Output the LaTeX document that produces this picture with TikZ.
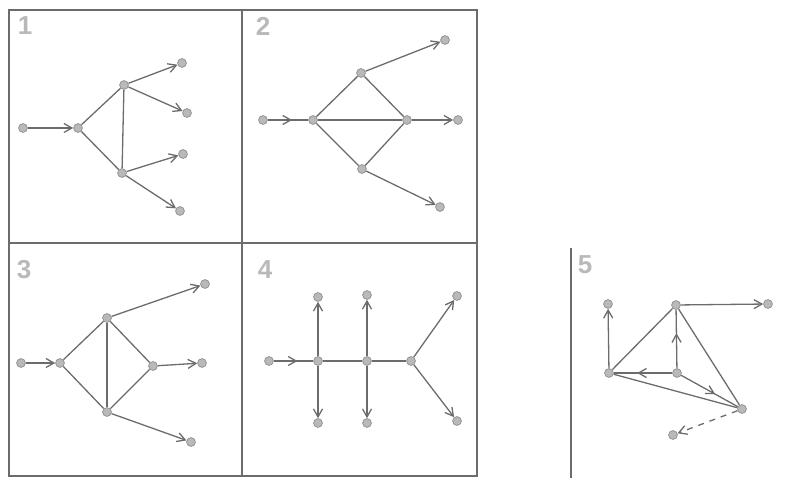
\documentclass[tikz,border=0pt]{standalone}
\usepackage{fontspec}
\setmainfont{Liberation Sans}
\usetikzlibrary{arrows.meta}
\usetikzlibrary{decorations.markings}
\usetikzlibrary{backgrounds}

\begin{document}
\begin{tikzpicture}[
    x=0.5pt, y=-0.5pt,
    dot/.style={circle, draw=gray!85, fill=gray!55, inner sep=0pt,
                minimum size=4.4pt},
    num/.style={font=\bfseries\fontsize{13}{15}\selectfont, text=gray!55},
    frame/.style={draw=gray!85!black, line width=0.7pt},
    link/.style={draw=gray!85!black, line width=0.65pt},
    flow/.style={link, -{Straight Barb[length=4pt,width=4.5pt]}},
    midflow/.style={link, postaction={decorate},
                decoration={markings, mark=at position 0.6 with
                {\arrow{Straight Barb[length=4pt,width=4.5pt]}}}}
  ]
    \useasboundingbox (0,0) rectangle (793,480);

    % Cadre des quatre panneaux
    \draw[frame] (9,10) rectangle (477,476);
    \draw[frame] (242,10) -- (242,476);
    \draw[frame] (9,243) -- (477,243);
    \draw[frame] (571,248) -- (571,478);

    % Numéros
    \node[num] (lblOne) at (25,26) {1};
    \node[num] (lblTwo) at (263,26) {2};
    \node[num] (lblThree) at (24,270) {3};
    \node[num] (lblFour) at (265,270) {4};
    \node[num] (lblFive) at (585,265) {5};

    % Panneau 1
    \node[dot] (oneIn) at (23,128) {};
    \node[dot] (oneFork) at (78,128) {};
    \node[dot] (oneUp) at (124,85) {};
    \node[dot] (oneDown) at (122,173) {};
    \node[dot] (oneOutA) at (182,63) {};
    \node[dot] (oneOutB) at (187,113) {};
    \node[dot] (oneOutC) at (183,154) {};
    \node[dot] (oneOutD) at (180,211) {};

    % Panneau 2
    \node[dot] (twoIn) at (263,120) {};
    \node[dot] (twoFork) at (313,120) {};
    \node[dot] (twoUp) at (361,73) {};
    \node[dot] (twoJoin) at (407,120) {};
    \node[dot] (twoDown) at (362,169) {};
    \node[dot] (twoOutA) at (445,40) {};
    \node[dot] (twoOutB) at (458,120) {};
    \node[dot] (twoOutC) at (440,207) {};

    % Panneau 3
    \node[dot] (threeIn) at (21,363) {};
    \node[dot] (threeFork) at (60,363) {};
    \node[dot] (threeUp) at (107,318) {};
    \node[dot] (threeDown) at (107,412) {};
    \node[dot] (threeJoin) at (153,366) {};
    \node[dot] (threeOutA) at (205,284) {};
    \node[dot] (threeOutB) at (202,363) {};
    \node[dot] (threeOutC) at (191,442) {};

    % Panneau 4
    \node[dot] (fourIn) at (269,361) {};
    \node[dot] (fourA) at (318,361) {};
    \node[dot] (fourB) at (367,361) {};
    \node[dot] (fourC) at (411,361) {};
    \node[dot] (fourAUp) at (318,297) {};
    \node[dot] (fourADown) at (318,423) {};
    \node[dot] (fourBUp) at (367,295) {};
    \node[dot] (fourBDown) at (367,423) {};
    \node[dot] (fourCUp) at (457,296) {};
    \node[dot] (fourCDown) at (457,421) {};

    % Panneau 5
    \node[dot] (fiveTop) at (608,304) {};
    \node[dot] (fiveLeft) at (609,373) {};
    \node[dot] (fivePeak) at (676,305) {};
    \node[dot] (fiveMid) at (677,373) {};
    \node[dot] (fiveRight) at (742,409) {};
    \node[dot] (fiveOut) at (768,304) {};
    \node[dot] (fiveLow) at (673,435) {};

    \begin{pgfonlayer}{background}
      % Panneau 1
      \draw[flow] (oneIn) -- (oneFork);
      \draw[link] (oneFork) -- (oneUp);
      \draw[link] (oneFork) -- (oneDown);
      \draw[link] (oneUp) -- (oneDown);
      \draw[flow] (oneUp) -- (oneOutA);
      \draw[flow] (oneUp) -- (oneOutB);
      \draw[flow] (oneDown) -- (oneOutC);
      \draw[flow] (oneDown) -- (oneOutD);

      % Panneau 2
      \draw[midflow] (twoIn) -- (twoFork);
      \draw[link] (twoFork) -- (twoUp);
      \draw[link] (twoFork) -- (twoJoin);
      \draw[link] (twoFork) -- (twoDown);
      \draw[link] (twoUp) -- (twoJoin);
      \draw[link] (twoDown) -- (twoJoin);
      \draw[flow] (twoUp) -- (twoOutA);
      \draw[flow] (twoJoin) -- (twoOutB);
      \draw[flow] (twoDown) -- (twoOutC);

      % Panneau 3
      \draw[flow] (threeIn) -- (threeFork);
      \draw[link] (threeFork) -- (threeUp);
      \draw[link] (threeFork) -- (threeDown);
      \draw[link] (threeUp) -- (threeDown);
      \draw[link] (threeUp) -- (threeJoin);
      \draw[link] (threeDown) -- (threeJoin);
      \draw[flow] (threeUp) -- (threeOutA);
      \draw[flow] (threeJoin) -- (threeOutB);
      \draw[flow] (threeDown) -- (threeOutC);

      % Panneau 4
      \draw[midflow] (fourIn) -- (fourA);
      \draw[link] (fourA) -- (fourB);
      \draw[link] (fourB) -- (fourC);
      \draw[flow] (fourA) -- (fourAUp);
      \draw[flow] (fourA) -- (fourADown);
      \draw[flow] (fourB) -- (fourBUp);
      \draw[flow] (fourB) -- (fourBDown);
      \draw[flow] (fourC) -- (fourCUp);
      \draw[flow] (fourC) -- (fourCDown);

      % Panneau 5
      \draw[flow] (fiveLeft) -- (fiveTop);
      \draw[link] (fiveLeft) -- (fivePeak);
      \draw[midflow] (fiveMid) -- (fiveLeft);
      \draw[midflow] (fiveMid) -- (fivePeak);
      \draw[midflow] (fiveMid) -- (fiveRight);
      \draw[link] (fiveLeft) -- (fiveRight);
      \draw[link] (fivePeak) -- (fiveRight);
      \draw[flow] (fivePeak) -- (fiveOut);
      \draw[flow, dashed] (fiveRight) -- (fiveLow);
    \end{pgfonlayer}

  \end{tikzpicture}
\end{document}
